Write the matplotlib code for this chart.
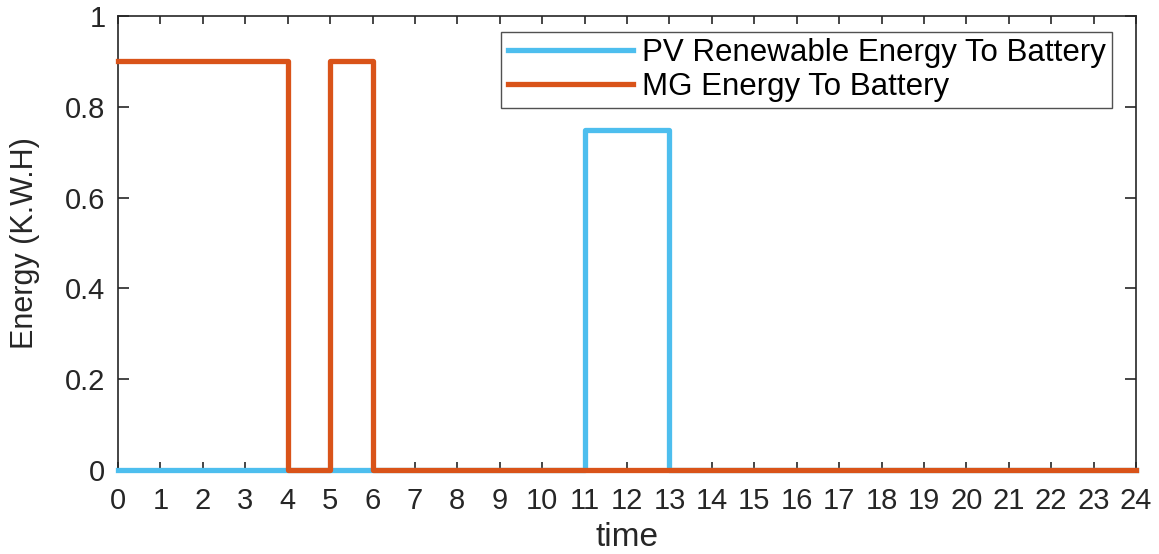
import matplotlib
matplotlib.use("Agg")
import matplotlib.pyplot as plt

plt.rcParams['font.family'] = ['Liberation Sans', 'DejaVu Sans']

hours = list(range(25))
pv_energy = [0, 0, 0, 0, 0, 0, 0, 0, 0, 0, 0, 0.75, 0.75, 0, 0, 0, 0, 0, 0, 0, 0, 0, 0, 0, 0]
mg_energy = [0.9, 0.9, 0.9, 0.9, 0, 0.9, 0, 0, 0, 0, 0, 0, 0, 0, 0, 0, 0, 0, 0, 0, 0, 0, 0, 0, 0]
y_ticks = [0, 0.2, 0.4, 0.6, 0.8, 1]
y_labels = ["0", "0.2", "0.4", "0.6", "0.8", "1"]

fig = plt.figure(figsize=(11.59, 5.54), dpi=100)
ax = fig.add_axes([0.1018, 0.1516, 0.8784, 0.8195])

ax.step(hours, pv_energy, where='post', color='#4DBEEE', lw=3.8,
        label='PV Renewable Energy To Battery', clip_on=False, zorder=3)
ax.step(hours, mg_energy, where='post', color='#D95319', lw=3.8,
        label='MG Energy To Battery', clip_on=False, zorder=3)

ax.set_xlim(0, 24)
ax.set_ylim(0, 1)
ax.set_xticks(hours)
ax.set_xticklabels([str(h) for h in hours])
ax.set_yticks(y_ticks)
ax.set_yticklabels(y_labels)

txt = '#262626'
ax.tick_params(axis='both', direction='in', top=True, right=True,
               labelsize=21, colors=txt, width=1.2)
ax.tick_params(axis='x', length=6, pad=12)
ax.tick_params(axis='y', length=8, pad=9)
for s in ax.spines.values():
    s.set_color(txt)
    s.set_linewidth(1.2)

ax.set_xlabel('time', fontsize=24, color=txt)
ax.set_ylabel('Energy (K.W.H)', fontsize=22, color=txt)
ax.xaxis.set_label_coords(0.5, -0.1476)
ax.xaxis.label.set_va('center')
ax.yaxis.set_label_coords(-0.0914, 0.5)
ax.yaxis.label.set_va('center')

leg = ax.legend(loc='upper right', bbox_to_anchor=(0.9765, 0.965), fontsize=22.5,
                frameon=True, fancybox=False, edgecolor=txt, handlelength=4.0,
                borderpad=0.2, labelspacing=0.12, handletextpad=0.3,
                borderaxespad=0)
leg.get_frame().set_linewidth(1.0)
leg.set_zorder(5)

fig.savefig('out.png', dpi=100)
